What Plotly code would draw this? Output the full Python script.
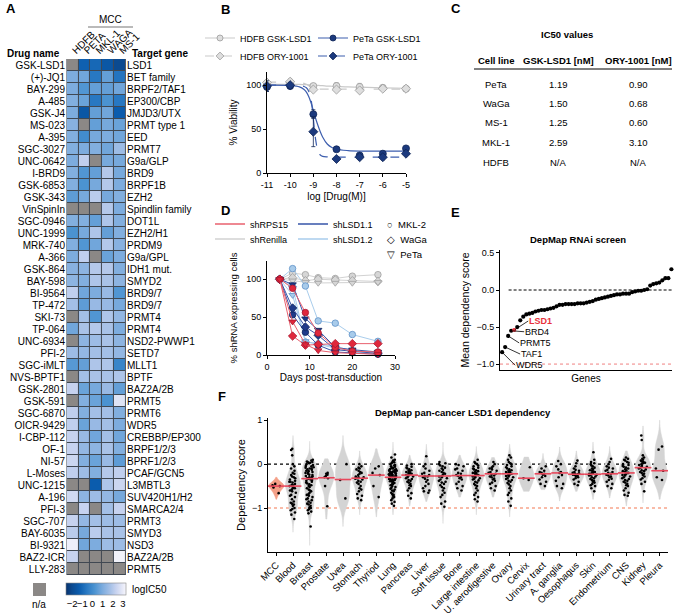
import plotly.graph_objects as go

W, H = 674, 615
FONT = "Liberation Sans, Arial, sans-serif"


def X(p):
    return p / W


def Y(p):
    return 1 - p / H


# ---------------- Panel A: heatmap data ----------------
cell_lines = ["HDFB", "PETA", "MKL-1", "WAGA", "MS-1"]
drugs = ["GSK-LSD1", "(+)-JQ1", "BAY-299", "A-485", "GSK-J4", "MS-023", "A-395", "SGC-3027",
         "UNC-0642", "I-BRD9", "GSK-6853", "GSK-343", "VinSpinIn", "SGC-0946", "UNC-1999",
         "MRK-740", "A-366", "GSK-864", "BAY-598", "BI-9564", "TP-472", "SKI-73", "TP-064",
         "UNC-6934", "PFI-2", "SGC-iMLT", "NVS-BPTF1", "GSK-2801", "GSK-591", "SGC-6870",
         "OICR-9429", "I-CBP-112", "OF-1", "NI-57", "L-Moses", "UNC-1215", "A-196", "PFI-3",
         "SGC-707", "BAY-6035", "BI-9321", "BAZ2-ICR", "LLY-283"]
targets = ["LSD1", "BET family", "BRPF2/TAF1", "EP300/CBP", "JMJD3/UTX", "PRMT type 1", "EED",
           "PRMT7", "G9a/GLP", "BRD9", "BRPF1B", "EZH2", "Spindlin family", "DOT1L", "EZH2/H1",
           "PRDM9", "G9a/GPL", "IDH1 mut.", "SMYD2", "BRD9/7", "BRD9/7", "PRMT4", "PRMT4",
           "NSD2-PWWP1", "SETD7", "MLLT1", "BPTF", "BAZ2A/2B", "PRMT5", "PRMT6", "WDR5",
           "CREBBP/EP300", "BRPF1/2/3", "BPRF1/2/3", "PCAF/GCN5", "L3MBTL3", "SUV420H1/H2",
           "SMARCA2/4", "PRMT3", "SMYD3", "NSD3", "BAZ2A/2B", "PRMT5"]
ic50_hdfb = [None, 1.0, 1.0, 1.1, 1.0, 1.2, 1.1, 1.1, 1.0, 1.1, 1.1, 0.5, None, 1.1, 0.2, 1.1,
             1.0, 1.2, 1.3, 2.2, 1.7, None, 0.8, None, 1.6, 0.4, None, 2.3, None, 2.2, 2.2,
             2.3, 2.3, 2.4, 2.2, None, 2.5, None, 2.3, 2.1, 3.1, 2.3, None]
ic50_peta = [-1.2, 0.8, 0.3, 0.7, -1.5, None, 0.0, 1.0, 2.2, 0.3, 0.2, 0.9, None, 1.1, 0.9, 0.3,
             2.2, 1.3, 1.1, 0.8, 0.5, 1.7, 1.8, 1.3, 1.4, 0.6, 1.7, 0.7, 1.1, 1.1, 0.7, 1.5,
             1.4, 1.1, 1.6, None, 1.3, 2.3, 1.4, 0.9, 0.8, None, None]
ic50_mkl1 = [-1.0, -0.6, 0.6, -0.6, 0.6, 0.6, 0.9, 1.1, None, 0.6, 0.9, 2.1, None, 0.6, 1.9, 0.8,
             None, 2.0, 1.9, 1.0, 1.5, 0.3, 2.0, 1.6, 1.7, 1.9, 1.8, 0.9, 0.7, 1.7, 1.5, 0.8,
             1.3, 0.7, 1.1, -1.3, 1.6, None, 1.7, 2.1, 1.0, None, None]
ic50_waga = [-1.5, 0.6, 0.6, 0.2, 0.8, 0.9, 1.0, 0.8, 0.9, 2.0, 2.0, 0.9, 2.0, 1.9, 0.6, 2.0,
             0.7, 2.0, 1.8, 1.5, 1.5, 1.9, 1.8, 1.8, 1.7, 1.9, 1.8, 1.5, 0.2, 1.7, 1.7, 1.7,
             1.8, 1.5, 2.0, 1.9, 1.4, 1.7, 1.6, 1.8, 1.6, None, None]
ic50_ms1 = [-2.0, -0.7, 0.8, -0.6, -1.3, 0.7, 0.8, 1.6, 0.9, 0.9, 1.0, 1.1, 1.0, 1.1, 1.1, 1.2,
            1.0, 1.1, 1.3, 0.3, 0.9, 1.4, 1.0, 1.3, 1.4, -0.2, 1.9, 0.6, 2.8, 1.1, 1.0, 0.8,
            1.1, 0.5, 2.2, 2.4, 0.9, 2.3, 1.6, 1.8, 1.6, 3.2, None]
cbar_ticks = [-2, -1, 0, 1, 2, 3]

# ---------------- Panel B: dose response ----------------
log_dose = [-11, -10, -9, -8, -7, -6, -5]
hdfb_gsk = [101, 102, 99, 99, 98, 97, 96]
hdfb_gsk_err = [3, 3, 2, 4, 4, 3, 2]
hdfb_ory = [103, 104, 95, 95, 94, 96, 96]
hdfb_ory_err = [3, 3, 2, 2, 2, 2, 2]
peta_gsk = [98, 99, 67, 27, 20, 22, 28]
peta_gsk_err = [5, 3, 5, 2, 2, 2, 2]
peta_ory = [99, 100, 47, 16, 18, 18, 22]
peta_ory_err = [6, 3, 17, 2, 2, 3, 2]
fit_x = [-11, -10, -9.6, -9.4, -9.3, -9.2, -9.1, -9.0, -8.9, -8.8, -8.7, -8.6, -8.4, -8.2,
         -8.0, -7.5, -7, -6, -5]
peta_gsk_fit = [100, 99.5, 98, 95, 92, 87, 80, 71, 62, 54, 47, 41, 33, 29, 27, 25.5, 25, 25, 25]
peta_ory_fit = [100, 100, 99.5, 98.5, 97, 93, 84, 62, 38, 25, 20.5, 19, 18.3, 18.1, 18, 18, 18,
                18, 18]
hdfb_gsk_fit = [101, 101, 100.8, 100.6, 100.5, 100.4, 100.3, 100.2, 100, 99.8, 99.6, 99.5, 99,
                98.8, 98.6, 98, 97.8, 97, 96.5]
hdfb_ory_fit = [103.5, 103.5, 103, 102, 101, 99.5, 98, 96.5, 96, 95.8, 95.6, 95.5, 95.5, 95.5,
                95.5, 95.5, 95.5, 95.5, 95.5]

# ---------------- Panel C: table ----------------
c_header = ["Cell line", "GSK-LSD1 [nM]", "ORY-1001 [nM]"]
c_cells = ["PeTa", "WaGa", "MS-1", "MKL-1", "HDFB"]
c_gsk = ["1.19", "1.50", "1.25", "2.59", "N/A"]
c_ory = ["0.90", "0.68", "0.60", "3.10", "N/A"]

# ---------------- Panel D: shRNA competition ----------------
days = [3, 6, 9, 12, 16, 20, 26]
sh_names = ["shRenilla", "shLSD1.2", "shLSD1.1", "shRPS15"]
d_lines = ["MKL-2", "WaGa", "PeTa"]
ren_mkl2 = [100, 108, 106, 102, 101, 104, 106]
ren_waga = [100, 102, 98, 100, 99, 98, 97]
ren_peta = [100, 98, 96, 95, 95, 95, 96]
lsd12_mkl2 = [100, 114, 91, 45, 42, 27, 18]
lsd12_waga = [100, 90, 17, 15, 11, 6, 3]
lsd12_peta = [100, 79, 18, 14, 9, 5, 3]
lsd11_mkl2 = [100, 53, 30, 13, 4, 3, 1]
lsd11_waga = [100, 62, 37, 26, 7, 5, 2]
lsd11_peta = [100, 93, 48, 33, 10, 7, 4]
rps15_mkl2 = [100, 88, 56, 29, 10, 5, 4]
rps15_waga = [100, 25, 13, 14, 15, 15, 15]
rps15_peta = [100, 44, 14, 6, 3, 2, 1]

# ---------------- Panel E: DepMap RNAi ----------------
e_scores = [-0.84, -0.77, -0.62, -0.55, -0.54, -0.50, -0.41, -0.36, -0.33, -0.32, -0.31, -0.29,
            -0.28, -0.27, -0.27, -0.26, -0.25, -0.24, -0.22, -0.20, -0.20, -0.19, -0.19, -0.19,
            -0.19, -0.18, -0.18, -0.18, -0.17, -0.16, -0.15, -0.13, -0.12, -0.11, -0.10, -0.09,
            -0.08, -0.07, -0.06, -0.06, -0.05, -0.05, -0.05, -0.03, -0.02, -0.01, -0.01, 0.00,
            0.01, 0.06, 0.08, 0.09, 0.10, 0.13, 0.16, 0.16, 0.28]
e_labels = ["WDR5", "TAF1", "PRMT5", "BRD4", "LSD1"]

# ---------------- Panel F: pan-cancer violins ----------------
f_categories = ["MCC", "Blood", "Breast", "Prostate", "Uvea", "Stomach", "Thyriod", "Lung",
                "Pancreas", "Liver", "Soft tissue", "Bone", "Large intestine",
                "U. aerodigestive", "Ovary", "Cervix", "Urinary tract", "A. ganglia",
                "Oesophagus", "Skin", "Endometrium", "CNS", "Kidney", "Pleura"]
f_mcc = [-0.45, -0.48, -0.50, -0.53, -0.66]
f_blood = [0.35, 0.32, 0.2, 0.0, -0.05, -0.1, -0.15, -0.2, -0.22, -0.25, -0.28, -0.3, -0.32,
           -0.35, -0.38, -0.4, -0.42, -0.45, -0.47, -0.5, -0.5, -0.52, -0.55, -0.58, -0.6,
           -0.62, -0.65, -0.7, -0.72, -0.75, -0.8, -0.85, -0.88, -0.9, -0.92, -0.95, -1.0,
           -1.02, -1.05, -1.1, -1.15, -1.25, -0.55, -0.48, -0.4]
f_breast = [0.1, 0.08, 0.06, 0.05, 0.04, 0.03, 0.02, 0.0, -0.02, -0.04, -0.05, -0.07, -0.08,
            -0.1, -0.1, -0.12, -0.13, -0.15, -0.16, -0.18, -0.2, -0.2, -0.22, -0.24, -0.25,
            -0.27, -0.28, -0.3, -0.3, -0.32, -0.33, -0.35, -0.36, -0.38, -0.4, -0.42, -0.44,
            -0.46, -0.48, -0.5, -0.52, -0.55, -0.58, -0.6, -0.62, -0.65, -0.68, -0.7, -0.72,
            -0.75, -0.78, -0.8, -0.82, -0.85, -0.88, -0.9, -0.92, -0.95, -0.98, -1.0, -1.02,
            -1.05, -1.08, -1.12, -1.42]
f_prostate = [-0.2, -0.22, -0.24, -0.27, -0.3, -0.32, -0.5, -0.96]
f_uvea = [0.0, -0.36, -0.78]
f_stomach = [0.0, -0.05, -0.08, -0.1, -0.12, -0.15, -0.18, -0.2, -0.22, -0.25, -0.28, -0.3,
             -0.32, -0.33, -0.35, -0.38, -0.4, -0.42, -0.45, -0.5, -0.55, -0.58, -0.62, -0.68,
             -0.72, -0.78, -0.82, -0.3]
f_thyroid = [-0.05, -0.1, -0.2, -0.25, -0.5, -0.75]
f_lung = [0.22, 0.15, 0.1, 0.08, 0.05, 0.04, 0.02, 0.0, -0.02, -0.03, -0.05, -0.06, -0.08,
          -0.09, -0.1, -0.11, -0.12, -0.13, -0.14, -0.15, -0.16, -0.17, -0.18, -0.19, -0.2,
          -0.21, -0.22, -0.23, -0.24, -0.25, -0.26, -0.27, -0.28, -0.29, -0.3, -0.31, -0.32,
          -0.33, -0.34, -0.35, -0.36, -0.37, -0.38, -0.39, -0.4, -0.42, -0.43, -0.45, -0.46,
          -0.48, -0.5, -0.52, -0.54, -0.56, -0.58, -0.6, -0.62, -0.65, -0.68, -0.7, -0.72,
          -0.75, -0.78, -0.82, -0.86, -0.9, -0.95, -0.3, -0.25, -0.2, -0.15, -0.35, -0.28]
f_pancreas = [0.0, -0.03, -0.06, -0.08, -0.1, -0.12, -0.14, -0.15, -0.17, -0.18, -0.2, -0.22,
              -0.23, -0.25, -0.26, -0.28, -0.3, -0.32, -0.34, -0.36, -0.38, -0.4, -0.42, -0.45,
              -0.48, -0.5, -0.55, -0.6, -0.66, -0.72, -0.78, -0.25, -0.2]
f_liver = [0.18, 0.0, -0.05, -0.1, -0.15, -0.2, -0.22, -0.25, -0.27, -0.28, -0.3, -0.33, -0.36,
           -0.4, -0.45, -0.5, -0.55, -0.6, -0.62, -0.65]
f_soft = [0.05, 0.02, 0.0, -0.03, -0.05, -0.08, -0.1, -0.13, -0.15, -0.18, -0.2, -0.22, -0.25,
          -0.27, -0.28, -0.3, -0.32, -0.35, -0.38, -0.4, -0.42, -0.45, -0.48, -0.52, -0.55,
          -0.6, -0.65, -0.7, -0.75, -0.85, -0.9, -0.97]
f_bone = [0.0, -0.02, -0.05, -0.1, -0.12, -0.15, -0.2, -0.22, -0.25, -0.27, -0.3, -0.32, -0.35,
          -0.4, -0.45, -0.5, -0.55, -0.6]
f_large_int = [0.1, 0.05, 0.02, 0.0, -0.03, -0.05, -0.08, -0.1, -0.12, -0.14, -0.16, -0.18,
               -0.2, -0.22, -0.24, -0.25, -0.27, -0.28, -0.3, -0.32, -0.33, -0.35, -0.37, -0.4,
               -0.42, -0.45, -0.48, -0.5, -0.55, -0.6, -0.65, -0.7, -0.75, -0.8, -0.85, -0.25,
               -0.2]
f_uaero = [0.05, 0.0, -0.05, -0.08, -0.1, -0.12, -0.15, -0.18, -0.2, -0.22, -0.24, -0.26,
           -0.28, -0.3, -0.33, -0.35, -0.38, -0.42, -0.45, -0.5, -0.55, -0.6]
f_ovary = [0.2, 0.15, 0.1, 0.05, 0.02, 0.0, -0.02, -0.05, -0.07, -0.1, -0.12, -0.14, -0.16,
           -0.18, -0.2, -0.22, -0.24, -0.25, -0.27, -0.28, -0.3, -0.32, -0.34, -0.36, -0.38,
           -0.4, -0.43, -0.46, -0.5, -0.55, -0.6, -0.65, -0.7, -0.78, -0.85, -0.95, -0.2, -0.15]
f_cervix = [-0.07, -0.32, -0.36]
f_urinary = [-0.05, -0.1, -0.15, -0.18, -0.2, -0.22, -0.24, -0.27, -0.3, -0.35, -0.4, -0.45,
             -0.5]
f_aganglia = [0.07, 0.0, -0.05, -0.12, -0.18, -0.2, -0.25, -0.3, -0.38, -0.45, -0.5, -0.55]
f_oesoph = [0.08, 0.02, -0.05, -0.1, -0.13, -0.15, -0.18, -0.2, -0.21, -0.22, -0.23, -0.24,
            -0.25, -0.26, -0.28, -0.3, -0.32, -0.35, -0.4, -0.45, -0.48]
f_skin = [0.27, 0.1, 0.05, 0.02, 0.0, -0.03, -0.05, -0.08, -0.1, -0.12, -0.14, -0.15, -0.17,
          -0.18, -0.2, -0.21, -0.22, -0.23, -0.24, -0.25, -0.26, -0.28, -0.3, -0.32, -0.34,
          -0.36, -0.38, -0.4, -0.42, -0.45, -0.48, -0.5, -0.55, -0.62]
f_endomet = [0.12, 0.05, 0.0, -0.05, -0.08, -0.1, -0.13, -0.15, -0.18, -0.2, -0.22, -0.24,
             -0.26, -0.28, -0.3, -0.33, -0.36, -0.4, -0.45, -0.5, -0.55]
f_cns = [0.15, 0.12, 0.1, 0.08, 0.05, 0.03, 0.0, -0.02, -0.04, -0.06, -0.08, -0.1, -0.12, -0.14,
         -0.16, -0.18, -0.2, -0.22, -0.24, -0.26, -0.28, -0.3, -0.32, -0.34, -0.36, -0.38,
         -0.4, -0.42, -0.45, -0.48, -0.5, -0.55, -0.6, -0.65, -0.7, -0.72, -0.2, -0.25]
f_kidney = [0.65, 0.55, 0.2, 0.15, 0.12, 0.1, 0.08, 0.06, 0.05, 0.03, 0.02, 0.0, -0.02, -0.04,
            -0.06, -0.08, -0.1, -0.12, -0.14, -0.16, -0.18, -0.2, -0.22, -0.25, -0.28, -0.32,
            -0.35, -0.4, -0.45, -0.62]
f_pleura = [0.4, 0.33, -0.1, -0.15, -0.3, -0.36]
f_groups = [f_mcc, f_blood, f_breast, f_prostate, f_uvea, f_stomach, f_thyroid, f_lung,
            f_pancreas, f_liver, f_soft, f_bone, f_large_int, f_uaero, f_ovary, f_cervix,
            f_urinary, f_aganglia, f_oesoph, f_skin, f_endomet, f_cns, f_kidney, f_pleura]
f_medians = [-0.5, -0.5, -0.33, -0.31, -0.35, -0.32, -0.25, -0.3, -0.25, -0.27, -0.27, -0.26,
             -0.26, -0.22, -0.22, -0.32, -0.22, -0.2, -0.23, -0.23, -0.22, -0.2, -0.08, -0.15]
f_span_lo = [-0.8, -1.55, -1.85, -1.25, -1.42, -1.15, -1.2, -1.15, -0.95, -0.85, -1.35, -0.75,
             -1.15, -0.75, -1.2, -0.62, -0.58, -0.84, -0.62, -0.8, -0.77, -0.95, -0.88, -0.8]
f_span_hi = [-0.3, 0.65, 0.52, 0.12, 0.65, 0.3, 0.35, 0.5, 0.2, 0.45, 0.5, 0.2, 0.4, 0.15, 0.45,
             0.16, 0.24, 0.39, 0.3, 0.5, 0.4, 0.3, 0.87, 1.0]

# ======================================================================
fig = go.Figure()

BLUES = [[0, "#08336e"], [0.10, "#0b4a90"], [0.22, "#0b5cad"], [0.34, "#2878c2"],
         [0.475, "#4b93d1"], [0.61, "#7dacde"], [0.73, "#a3bfe6"], [0.83, "#c6d2ef"],
         [0.95, "#e9ebf8"], [1, "#f7f7fd"]]
NA_COL = "#8b8886"

z = [list(r) for r in zip(ic50_hdfb, ic50_peta, ic50_mkl1, ic50_waga, ic50_ms1)]
z_na = [[1 if v is None else None for v in row] for row in z]
rows = list(range(len(drugs)))

fig.add_trace(go.Heatmap(
    x=cell_lines, y=rows, z=z, zmin=-2.6, zmax=3.3, colorscale=BLUES, xgap=1, ygap=1,
    xaxis="x", yaxis="y", hoverinfo="skip",
    colorbar=dict(orientation="h", x=X(66), xanchor="left", y=Y(583), yanchor="top",
                  len=60, lenmode="pixels", thickness=12, thicknessmode="pixels",
                  tickvals=cbar_ticks, ticks="", tickangle=0, tickfont=dict(size=9.5),
                  xpad=0, ypad=0, outlinewidth=0.6, outlinecolor="#888")))
fig.add_trace(go.Heatmap(
    x=cell_lines, y=rows, z=z_na, colorscale=[[0, NA_COL], [1, NA_COL]], showscale=False,
    xgap=1, ygap=1, xaxis="x", yaxis="y", hoverinfo="skip"))
# invisible trace so that the right-hand (target gene) axis is drawn
fig.add_trace(go.Scatter(x=[cell_lines[0]] * len(rows), y=rows, mode="markers",
                         marker=dict(opacity=0), xaxis="x", yaxis="y2", showlegend=False,
                         hoverinfo="skip"))

# ---- Panel B traces
GRAY_LN, GRAY_FILL, GRAY_EDGE = "#c9c9c9", "#dedede", "#9a9a9a"
NAVY_LN, NAVY_FILL, NAVY_EDGE = "#3d5eae", "#1c3a7e", "#0f2456"
b_series = [
    ("HDFB GSK-LSD1", hdfb_gsk, hdfb_gsk_err, hdfb_gsk_fit, "circle", "solid", GRAY_LN, GRAY_FILL, GRAY_EDGE, "legend"),
    ("PeTa GSK-LSD1", peta_gsk, peta_gsk_err, peta_gsk_fit, "circle", "solid", NAVY_LN, NAVY_FILL, NAVY_EDGE, "legend"),
    ("HDFB ORY-1001", hdfb_ory, hdfb_ory_err, hdfb_ory_fit, "diamond", "dash", GRAY_LN, GRAY_FILL, GRAY_EDGE, "legend2"),
    ("PeTa ORY-1001", peta_ory, peta_ory_err, peta_ory_fit, "diamond", "dash", NAVY_LN, NAVY_FILL, NAVY_EDGE, "legend2"),
]
for name, vals, err, fit, sym, dash, lc, fc, ec, leg in b_series:
    fig.add_trace(go.Scatter(x=fit_x, y=fit, mode="lines", line=dict(color=lc, width=1.2, dash=dash, shape="spline"),
                             xaxis="x3", yaxis="y3", showlegend=False, hoverinfo="skip"))
for name, vals, err, fit, sym, dash, lc, fc, ec, leg in b_series:
    fig.add_trace(go.Scatter(x=log_dose, y=vals, mode="markers",
                             marker=dict(symbol=sym, size=7, color=fc, line=dict(color=ec, width=0.8)),
                             error_y=dict(type="data", array=err, color=ec, thickness=0.8, width=2),
                             xaxis="x3", yaxis="y3", showlegend=False, cliponaxis=False, hoverinfo="skip"))
    fig.add_trace(go.Scatter(x=[None], y=[None], mode="lines+markers", name=name,
                             line=dict(color=lc, width=1.2, dash=dash),
                             marker=dict(symbol=sym, size=6, color=fc, line=dict(color=ec, width=0.8)),
                             xaxis="x3", yaxis="y3", legend=leg))

# ---- Panel D traces
sh_style = {
    "shRenilla": ("#d2d2d2", "#d6d6d6", "#a0a0a0", "legend4"),
    "shLSD1.2": ("#a9cdec", "#a8cbea", "#5f92c8", "legend4"),
    "shLSD1.1": ("#3654a8", "#1e3a8a", "#10245a", "legend3"),
    "shRPS15": ("#e8606e", "#e0283c", "#a81830", "legend3"),
}
d_symbols = {"MKL-2": "circle", "WaGa": "diamond", "PeTa": "triangle-down"}
d_values = {
    "shRenilla": [ren_mkl2, ren_waga, ren_peta],
    "shLSD1.2": [lsd12_mkl2, lsd12_waga, lsd12_peta],
    "shLSD1.1": [lsd11_mkl2, lsd11_waga, lsd11_peta],
    "shRPS15": [rps15_mkl2, rps15_waga, rps15_peta],
}
for sh in sh_names:
    lc, fc, ec, _ = sh_style[sh]
    for cl, vals in zip(d_lines, d_values[sh]):
        fig.add_trace(go.Scatter(x=days, y=vals, mode="lines+markers",
                                 line=dict(color=lc, width=1),
                                 marker=dict(symbol=d_symbols[cl], size=6.5, color=fc,
                                             line=dict(color=ec, width=0.8)),
                                 xaxis="x4", yaxis="y4", showlegend=False, cliponaxis=False,
                                 hoverinfo="skip"))
for sh in ["shRPS15", "shLSD1.1", "shRenilla", "shLSD1.2"]:
    lc, fc, ec, leg = sh_style[sh]
    fig.add_trace(go.Scatter(x=[None], y=[None], mode="lines", name=sh,
                             line=dict(color=lc, width=1.5), xaxis="x4", yaxis="y4", legend=leg))

# ---- Panel E traces
e_idx = list(range(1, len(e_scores) + 1))
e_colors = ["#e8303a" if i == len(e_labels) else "black" for i in e_idx]
fig.add_trace(go.Scatter(x=e_idx, y=e_scores, mode="markers",
                         marker=dict(size=4.2, color=e_colors), xaxis="x5", yaxis="y5",
                         showlegend=False, cliponaxis=False, hoverinfo="skip"))

# ---- Panel F traces
for cat, vals, lo, hi in zip(f_categories, f_groups, f_span_lo, f_span_hi):
    is_mcc = cat == "MCC"
    fill = "#f4a088" if is_mcc else "#d4d4d4"
    bw = 0.08 if is_mcc else (0.22 if len(vals) < 10 else 0.13)
    fig.add_trace(go.Violin(
        y=vals, x0=cat, name=cat, width=0.9, scalemode="width", spanmode="manual",
        span=[lo, hi], bandwidth=bw, fillcolor=fill, line=dict(color=fill, width=0.5),
        points="all", pointpos=0, jitter=0.6,
        marker=dict(size=2.6, color="black"), box_visible=False, meanline_visible=False,
        xaxis="x6", yaxis="y6", showlegend=False, hoverinfo="skip"))
fig.add_trace(go.Scatter(x=f_categories, y=f_medians, mode="markers",
                         marker=dict(symbol="line-ew", size=12,
                                     line=dict(color="#e8485c", width=1.6)),
                         xaxis="x6", yaxis="y6", showlegend=False, hoverinfo="skip"))

# ======================================================================
ax_common = dict(showgrid=False, zeroline=False, showline=True, linecolor="black", linewidth=1,
                 ticks="outside", ticklen=3, tickwidth=1, tickcolor="black",
                 tickfont=dict(size=9), fixedrange=True)

legend_common = dict(orientation="h", bgcolor="rgba(0,0,0,0)", font=dict(size=9),
                     xanchor="left", yanchor="middle", entrywidthmode="pixels",
                     itemwidth=30, tracegroupgap=0, borderwidth=0)

fig.update_layout(
    width=W, height=H, margin=dict(l=0, r=0, t=0, b=0, autoexpand=False),
    paper_bgcolor="white", plot_bgcolor="rgba(0,0,0,0)",
    font=dict(family=FONT, size=10, color="black"),
    violinmode="overlay", violingap=0, showlegend=True,
    xaxis=dict(domain=[X(66), X(126)], anchor="y", side="top", tickangle=-45, ticks="",
               tickmode="array", tickvals=cell_lines, ticktext=cell_lines,
               showgrid=False, zeroline=False, tickfont=dict(size=10), fixedrange=True),
    yaxis=dict(domain=[Y(575), Y(59)], anchor="x", range=[len(drugs) - 0.5, -0.5],
               tickmode="array", tickvals=rows, ticktext=drugs, ticks="", showgrid=False,
               zeroline=False, tickfont=dict(size=10), fixedrange=True),
    yaxis2=dict(overlaying="y", anchor="x", side="right", range=[len(drugs) - 0.5, -0.5],
                tickmode="array", tickvals=rows, ticktext=targets, ticks="", showgrid=False,
                zeroline=False, tickfont=dict(size=10), fixedrange=True),
    xaxis3=dict(domain=[X(267), X(406)], anchor="y3", range=[-11, -5], tickvals=log_dose,
                ticktext=[str(v) for v in log_dose],
                title=dict(text="log [Drug(M)]", font=dict(size=10), standoff=4), **ax_common),
    yaxis3=dict(domain=[Y(173), Y(72)], anchor="x3", range=[0, 115], tickvals=[0, 50, 100],
                title=dict(text="% Viability", font=dict(size=10), standoff=6), **ax_common),
    xaxis4=dict(domain=[X(267), X(395)], anchor="y4", range=[0, 30], tickvals=[0, 10, 20, 30],
                title=dict(text="Days post-transduction", font=dict(size=10), standoff=2),
                **ax_common),
    yaxis4=dict(domain=[Y(355), Y(261)], anchor="x4", range=[0, 124], tickvals=[0, 50, 100],
                title=dict(text="% shRNA expressing cells", font=dict(size=9.5), standoff=6),
                **ax_common),
    xaxis5=dict(domain=[X(500), X(672)], anchor="y5", range=[0.3, len(e_scores) + 0.2],
                showgrid=False, zeroline=False, showline=True, linecolor="black", linewidth=1,
                ticks="", showticklabels=False, fixedrange=True,
                title=dict(text="Genes", font=dict(size=10), standoff=4)),
    yaxis5=dict(domain=[Y(370), Y(250)], anchor="x5", range=[-1.08, 0.54],
                tickvals=[-1, -0.5, 0, 0.5], tickformat=".1f",
                title=dict(text="Mean dependency score", font=dict(size=10.5), standoff=4),
                **ax_common),
    xaxis6=dict(domain=[X(268), X(668)], anchor="y6", type="category",
                categoryorder="array", categoryarray=f_categories, range=[-0.5, 23.5],
                tickangle=-45, **{k: v for k, v in ax_common.items() if k != "tickfont"},
                tickfont=dict(size=9.5)),
    yaxis6=dict(domain=[Y(552), Y(418)], anchor="x6", range=[-2.0, 1.05], tickvals=[-1, 0, 1],
                title=dict(text="Dependency score", font=dict(size=11), standoff=4),
                **ax_common),
    legend=dict(x=X(200), y=Y(38), entrywidth=68, **legend_common),
    legend2=dict(x=X(200), y=Y(56), entrywidth=68, **legend_common),
    legend3=dict(x=X(210), y=Y(224), entrywidth=38, **legend_common),
    legend4=dict(x=X(210), y=Y(239), entrywidth=38, **legend_common),
)

shapes = [
    # heatmap grid background
    dict(type="rect", xref="x", yref="y", x0=-0.5, x1=4.5, y0=-0.5, y1=len(drugs) - 0.5,
         fillcolor="#404852", line=dict(color="#404852", width=0.8), layer="below"),
    # MCC bracket
    dict(type="line", xref="paper", yref="paper", x0=X(88), x1=X(133), y0=Y(27), y1=Y(27),
         line=dict(color="#777", width=1.2)),
    # n/a swatch
    dict(type="rect", xref="paper", yref="paper", x0=X(33), x1=X(46), y0=Y(596), y1=Y(583),
         fillcolor=NA_COL, line=dict(width=0)),
    # table rule
    dict(type="line", xref="paper", yref="paper", x0=X(474), x1=X(672), y0=Y(69), y1=Y(69),
         line=dict(color="black", width=1)),
    # E reference lines
    dict(type="line", xref="x5 domain", yref="y5", x0=0.05, x1=1, y0=0, y1=0,
         line=dict(color="black", width=1, dash="3px,2px")),
    dict(type="line", xref="x5 domain", yref="y5", x0=0.0, x1=1, y0=-1, y1=-1,
         line=dict(color="#f08080", width=1, dash="dot")),
    # F reference lines
    dict(type="line", xref="x6 domain", yref="y6", x0=0, x1=1, y0=0, y1=0,
         line=dict(color="black", width=1.2, dash="dot"), layer="below"),
    dict(type="line", xref="x6 domain", yref="y6", x0=0, x1=1, y0=-1, y1=-1,
         line=dict(color="#f7a58c", width=1.6, dash="dot"), layer="below"),
]

ann = []


def txt(x, y, s, size=10, bold=False, xanchor="center", color="black", yanchor="middle"):
    ann.append(dict(x=X(x), y=Y(y), xref="paper", yref="paper", text=f"<b>{s}</b>" if bold else s,
                    showarrow=False, xanchor=xanchor, yanchor=yanchor,
                    font=dict(size=size, color=color)))


for letter, lx, ly in [("A", 4, 8), ("B", 219, 9), ("C", 449, 8), ("D", 219, 210),
                       ("E", 449, 212), ("F", 216, 396)]:
    txt(lx, ly, letter, size=13, bold=True, xanchor="left")

txt(62, 54, "Drug name", bold=True, xanchor="right")
txt(130, 54, "Target gene", bold=True, xanchor="left")
txt(110, 20, "MCC", size=10)
txt(39, 604, "n/a", size=10)
txt(130, 589, "logIC50", size=10, xanchor="left")

# table C
txt(567, 35, "IC50 values", size=9.5, bold=True)
c_col_x = [496, 558, 638]
for cx, h in zip(c_col_x, c_header):
    txt(cx, 61, h, size=9.5, bold=True)
for i, (cl, g, o) in enumerate(zip(c_cells, c_gsk, c_ory)):
    yy = 84 + i * 19.5
    txt(c_col_x[0], yy, cl, size=9.5)
    txt(c_col_x[1], yy, g, size=9.5)
    txt(c_col_x[2], yy, o, size=9.5)

# D marker-shape legend
for i, (sym, cl) in enumerate(zip(["○", "◇", "▽"], d_lines)):
    txt(385, 224 + i * 15, f"{sym}  {cl}", size=9.5, xanchor="left")

# E titles and labels
txt(578, 239, "DepMap RNAi screen", size=9.5, bold=True)
e_offsets = [(13, 13), (15, 7), (11, 7), (13, 1), (14, -9)]
for i, (lab, (axp, ayp)) in enumerate(zip(e_labels, e_offsets)):
    is_lsd = lab == "LSD1"
    ann.append(dict(x=e_idx[i], y=e_scores[i], xref="x5", yref="y5",
                    text=f"<b>{lab}</b>" if is_lsd else lab, showarrow=True, arrowhead=0,
                    arrowwidth=0.8, arrowcolor="black", ax=axp, ay=ayp, standoff=1,
                    xanchor="left", yanchor="middle", borderpad=0,
                    font=dict(size=9, color="#e8303a" if is_lsd else "black")))

# F title
txt(463, 412, "DepMap pan-cancer LSD1 dependency", size=9.5, bold=True)

fig.update_layout(shapes=shapes, annotations=ann)
fig.write_html("out.html", config={"displayModeBar": False},
               post_script="document.body.style.margin='0';document.body.style.overflow='hidden';")
